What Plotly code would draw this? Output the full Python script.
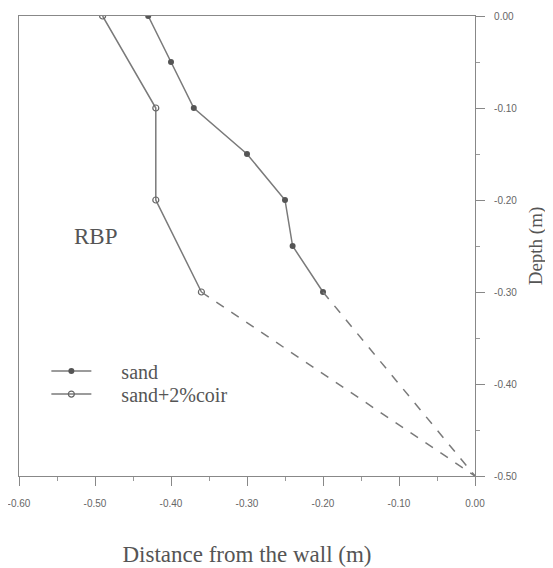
import plotly.graph_objects as go

# Data
sand_x = [-0.43, -0.40, -0.37, -0.30, -0.25, -0.24, -0.20]
sand_depth = [0.00, -0.05, -0.10, -0.15, -0.20, -0.25, -0.30]

coir_x = [-0.49, -0.42, -0.42, -0.36]
coir_depth = [0.00, -0.10, -0.20, -0.30]

# Dashed extrapolation to the wall base
sand_ext_x = [-0.20, 0.00]
sand_ext_depth = [-0.30, -0.50]
coir_ext_x = [-0.36, 0.00]
coir_ext_depth = [-0.30, -0.50]

x_ticks = [-0.6, -0.5, -0.4, -0.3, -0.2, -0.1, 0.0]
x_tick_labels = ["-0.60", "-0.50", "-0.40", "-0.30", "-0.20", "-0.10", "0.00"]
y_ticks = [0.0, -0.1, -0.2, -0.3, -0.4, -0.5]
y_tick_labels = ["0.00", "-0.10", "-0.20", "-0.30", "-0.40", "-0.50"]

LINE = "#7a7a7a"
SERIF = "Liberation Serif"
PAD = "\u00a0" * 5

fig = go.Figure()
fig.add_trace(go.Scatter(
    x=sand_x, y=sand_depth, mode="lines+markers", name=PAD + "sand",
    legend="legend",
    line=dict(color=LINE, width=1.5),
    marker=dict(symbol="circle", size=6, color="#555555"),
))
fig.add_trace(go.Scatter(
    x=coir_x, y=coir_depth, mode="lines+markers", name=PAD + "sand+2%coir",
    legend="legend2",
    line=dict(color=LINE, width=1.5),
    marker=dict(symbol="circle-open", size=6, color="#666666", line=dict(width=1.2)),
))
fig.add_trace(go.Scatter(
    x=sand_ext_x, y=sand_ext_depth, mode="lines", showlegend=False,
    line=dict(color=LINE, width=1.5, dash="dash"),
))
fig.add_trace(go.Scatter(
    x=coir_ext_x, y=coir_ext_depth, mode="lines", showlegend=False,
    line=dict(color=LINE, width=1.5, dash="dash"),
))

fig.add_annotation(
    text="RBP", x=-0.50, y=-0.24, xref="x", yref="y",
    showarrow=False, font=dict(family=SERIF, size=23, color="#555555"),
)

axis_common = dict(
    showline=True, linecolor="#888888", linewidth=1.2, mirror=True,
    showgrid=False, zeroline=False, automargin=False,
    ticks="outside", ticklen=9, tickcolor="#888888", tickwidth=1,
    ticklabeloverflow="allow",
    tickfont=dict(family="Liberation Sans Narrow, Liberation Sans", size=10, color="#666666"),
    minor=dict(ticks="outside", ticklen=4, tickcolor="#999999", dtick=0.05),
)

legend_common = dict(
    xanchor="left", yanchor="middle",
    font=dict(family=SERIF, size=20, color="#555555"),
    bgcolor="rgba(0,0,0,0)", itemwidth=40,
)

fig.update_layout(
    # page body has an 8px default margin: figure sized to fit the window
    width=545, height=560,
    margin=dict(l=11, r=78, t=8, b=92),
    paper_bgcolor="white", plot_bgcolor="white",
    showlegend=True,
    legend=dict(x=0.06, y=0.228, **legend_common),
    legend2=dict(x=0.06, y=0.178, **legend_common),
    xaxis=dict(
        range=[-0.6, 0.0], tickvals=x_ticks, ticktext=x_tick_labels,
        ticklabelstandoff=9,
        title=dict(text="Distance from the wall (m)", standoff=37,
                   font=dict(family=SERIF, size=23, color="#555555")),
        **axis_common,
    ),
    yaxis=dict(
        range=[-0.5, 0.0], side="right", tickvals=y_ticks, ticktext=y_tick_labels,
        ticklabelstandoff=7,
        title=dict(text="Depth (m)", standoff=12,
                   font=dict(family=SERIF, size=19, color="#555555")),
        **axis_common,
    ),
)

fig.write_html("out.html")
